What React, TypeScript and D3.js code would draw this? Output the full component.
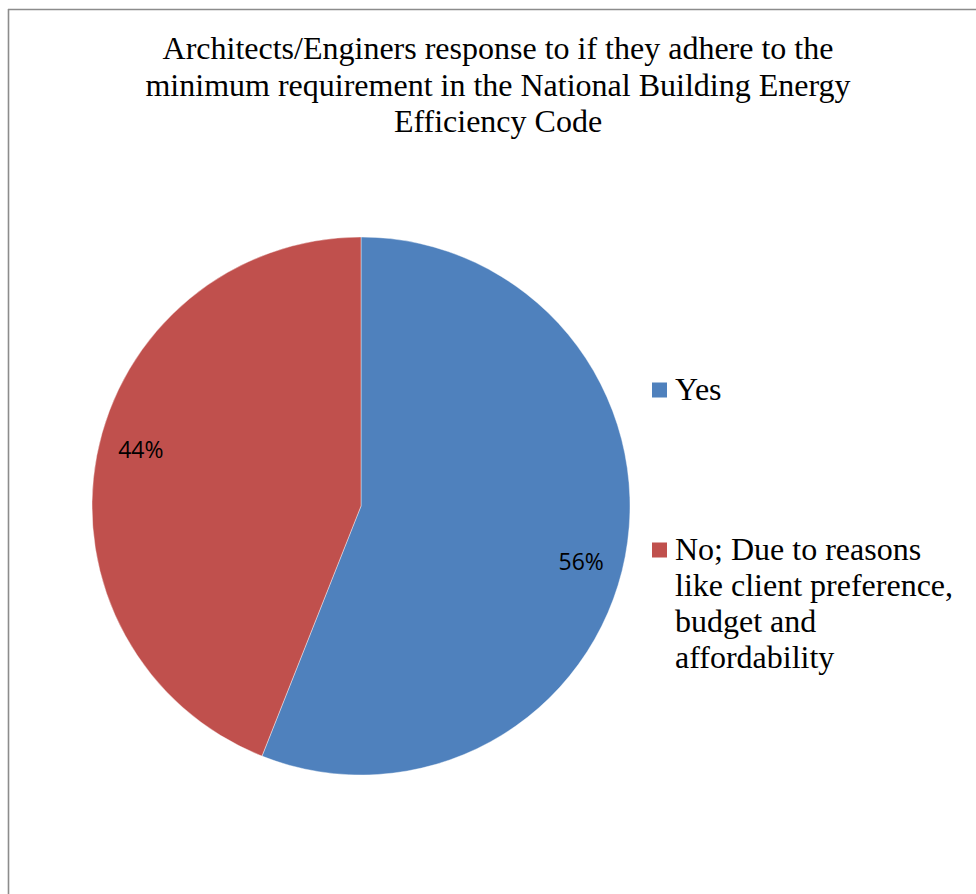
import React from "react";
import * as d3 from "d3";

const categories = ["Yes", "No; Due to reasons like client preference, budget and affordability"];
const values = [56, 44];
const colors = ["#4F81BD", "#C0504D"];
const titleLines = [
  "Architects/Enginers response to if they adhere to the",
  "minimum requirement in the National Building Energy",
  "Efficiency Code",
];
const legendLines = [["Yes"], ["No; Due to reasons", "like client preference,", "budget and", "affordability"]];

const W = 976;
const H = 894;
const cx = 361;
const cy = 506;
const R = 269;
const SERIF = "Liberation Serif, Times New Roman, DejaVu Serif, serif";

export default function App() {
  const pie = d3.pie<number>().sort(null).value((d) => d);
  const arcs = pie(values);
  const arcGen = d3.arc<d3.PieArcDatum<number>>().innerRadius(0).outerRadius(R);
  const labelR = R * 0.845;
  const labelShift = 0.062;
  const total = d3.sum(values);
  const legendY = [390, 550];

  return (
    <svg
      width={W}
      height={H}
      style={{ position: "absolute", left: 0, top: 0, background: "#fff" }}
    >
      <rect x={0} y={0} width={W} height={H} fill="#fff" />
      <line x1={8.5} y1={9} x2={8.5} y2={H} stroke="#8c8c8c" strokeWidth={1.6} />
      <line x1={8} y1={9.5} x2={W} y2={9.5} stroke="#8c8c8c" strokeWidth={1.6} />
      <g style={{ fontFamily: SERIF, fontSize: "32px" }} fill="#000" textAnchor="middle">
        {titleLines.map((t, i) => (
          <text key={i} x={498} y={59 + i * 36.5}>
            {t}
          </text>
        ))}
      </g>
      <g transform={`translate(${cx},${cy})`}>
        {arcs.map((a, i) => (
          <path key={i} d={arcGen(a) || ""} fill={colors[i]} stroke="#fff" strokeOpacity={0.5} strokeWidth={0.8} />
        ))}
        {arcs.map((a, i) => {
          const ang = (a.startAngle + a.endAngle) / 2 + labelShift;
          const x = labelR * Math.sin(ang);
          const y = -labelR * Math.cos(ang);
          return (
            <text
              key={"l" + i}
              x={x}
              y={y}
              dy="0.35em"
              textAnchor="middle"
              style={{ fontFamily: "Open Sans, Liberation Sans, sans-serif", fontSize: "23px" }}
              fill="#000"
            >
              {Math.round((values[i] / total) * 100)}%
            </text>
          );
        })}
      </g>
      <g style={{ fontFamily: SERIF, fontSize: "32px" }} fill="#000">
        {categories.map((c, i) => (
          <g key={c}>
            <rect x={652} y={legendY[i] - 7.5} width={15} height={15} fill={colors[i]} />
            {legendLines[i].map((ln, j) => (
              <text key={j} x={675} y={legendY[i] + 9.5 + j * 36}>
                {ln}
              </text>
            ))}
          </g>
        ))}
      </g>
    </svg>
  );
}
